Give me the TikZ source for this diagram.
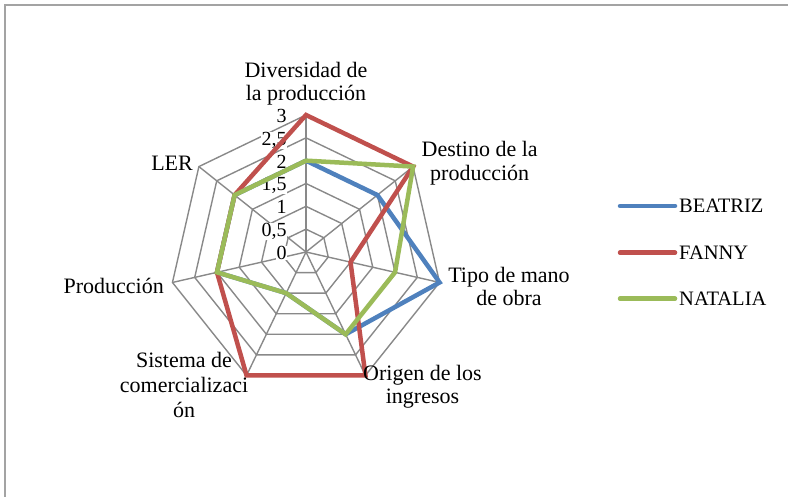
\documentclass[tikz,border=0pt]{standalone}
\usepackage{fontspec}
\setmainfont{Liberation Serif}
\usetikzlibrary{calc}
\definecolor{gridgray}{HTML}{898989}
\definecolor{framegray}{HTML}{A3A3A3}
\definecolor{beatriz}{HTML}{4F81BD}
\definecolor{fanny}{HTML}{C0504D}
\definecolor{natalia}{HTML}{9BBB59}
\newcommand{\radunit}{45.667}
\newcommand{\gridstep}{22.833}

\begin{document}
\begin{tikzpicture}[x = 1pt, y = 1pt,
    lbl/.style = {font=\fontsize{22}{23.5}\selectfont, inner sep=0pt},
    tick/.style = {lbl, font=\fontsize{20}{22}\selectfont, fill=white, inner sep=0.3pt, anchor=base east},
    web/.style = {draw=gridgray, line width=1.4pt},
    serie/.style = {line width=4.5pt}]
    \useasboundingbox (0,0) rectangle (788,497);
    \draw[framegray, line width=2pt] (5,0) -- (5,491.5) -- (788,491.5);
    \coordinate (O) at (306,245);
    \foreach \k in {0,...,6} \coordinate (V\k) at ($(O)+({90-\k*360/7}:3*\radunit)$);
    % web
    \foreach \l in {1,...,6}
        \draw[web] ($(O)+(90:\l*\gridstep)$) \foreach \k in {1,...,6} {-- ($(O)+({90-\k*360/7}:\l*\gridstep)$)} -- cycle;
    \foreach \k in {1,...,6} \draw[web] (O) -- (V\k);
    \draw[gridgray, line width=2.6pt] (O) -- (V0);
    \foreach \t [count=\i from 0] in {0,{0,5},1,{1,5},2,{2,5},3}
        \node[tick] (T\i) at ($(O)+(-19,\i*\gridstep-7.5)$) {\t};
    % series
    \draw[serie, beatriz] ($(O)+(90:2*\radunit)$) \foreach \v [count=\k] in {2,3,2,1,2,2} {-- ($(O)+({90-\k*360/7}:\v*\radunit)$)} -- cycle;
    \draw[serie, fanny] ($(O)+(90:3*\radunit)$) \foreach \v [count=\k] in {3,1,3,3,2,2} {-- ($(O)+({90-\k*360/7}:\v*\radunit)$)} -- cycle;
    \draw[serie, natalia] ($(O)+(90:2*\radunit)$) \foreach \v [count=\k] in {3,2,2,1,2,2} {-- ($(O)+({90-\k*360/7}:\v*\radunit)$)} -- cycle;
    % category labels
    \node[lbl, align=center] (Ldiv) at (306,413.5) {Diversidad de\\la producción};
    \node[lbl, align=center] (Ldes) at (479.7,333.7) {Destino de la\\producción};
    \node[lbl, align=center] (Ltip) at (509,210.4) {Tipo de mano\\de obra};
    \node[lbl, align=center] (Lori) at (422.5,110.3) {Origen de los\\ingresos};
    \node[lbl, align=center, font=\fontsize{22}{25}\selectfont] (Lsis) at (184,112.5) {Sistema de\\comercializaci\\ón};
    \node[lbl, anchor=base east] (Lpro) at (164,203) {Producción};
    \node[lbl, anchor=base east] (Ller) at (193,326.3) {LER};
    % legend
    \foreach \n/\c/\y in {BEATRIZ/beatriz/291, FANNY/fanny/244.3, NATALIA/natalia/198.3} {
        \node[lbl, anchor=west, font=\fontsize{20.5}{24}\selectfont] (\n) at (679,\y) {\n};
        \coordinate (\n-l) at (620,\y);
        \draw[serie, \c, line cap=round] (\n-l) -- ([xshift=-4pt]\n.west);
    }
\end{tikzpicture}
\end{document}
